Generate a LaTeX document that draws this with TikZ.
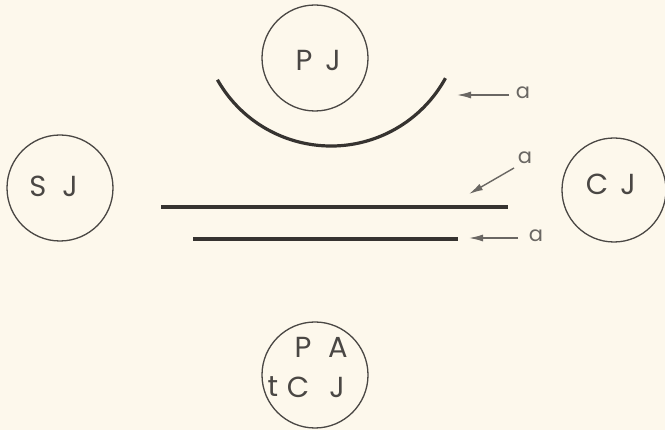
\documentclass[tikz,border=0pt]{standalone}
\usepackage{fontspec}
\setmainfont{Poppins}
\usetikzlibrary{arrows.meta}
\definecolor{bg}{HTML}{FDF8EC}
\definecolor{ink}{HTML}{4A4744}
\definecolor{thick}{HTML}{363330}
\definecolor{arrowc}{HTML}{6A6763}
\tikzset{
  jcircle/.style={circle,draw=ink,line width=1.3pt,minimum size=106pt,inner sep=0pt},
  jtext/.style={text=ink,font=\fontsize{29}{32}\selectfont,inner sep=0pt,anchor=center},
  bar/.style={draw=thick,line width=4pt},
  pointer/.style={draw=arrowc,line width=1.4pt,-{Latex[length=14pt,width=7pt]}},
  alabel/.style={text=arrowc,font=\fontsize{21}{24}\selectfont,inner sep=0pt,anchor=center}
}
\begin{document}
\begin{tikzpicture}[x=1pt,y=-1pt]
\fill[bg] (0,0) rectangle (665,430);
\useasboundingbox (0,0) rectangle (665,430);
% circles
\node[jcircle] (pj) at (315,58) {};
\node[jcircle] (sj) at (60,188) {};
\node[jcircle,minimum size=104pt] (cj) at (614,190) {};
\node[jcircle,minimum size=106pt] (pa) at (315,375) {};
% texts
\node[jtext] (pjP) at (304,60) {P};
\node[jtext] (pjJ) at (333,60) {J};
\node[jtext] (sjS) at (38,186) {S};
\node[jtext] (sjJ) at (70,186) {J};
\node[jtext] (cjC) at (597,184) {C};
\node[jtext] (cjJ) at (628,184) {J};
\node[jtext] (paP) at (303,347) {P};
\node[jtext] (paA) at (338,347) {A};
\node[jtext] (pat) at (273,387) {t};
\node[jtext] (paC) at (298,387) {C};
\node[jtext] (paJ) at (337,387) {J};
% arc
\coordinate (arcc) at (331,15.5);
\draw[draw=thick,line width=3.2pt] ([shift={(150.5:130.5)}]arcc) arc[start angle=150.5,end angle=28.7,radius=130.5];
% bars
\coordinate (b1l) at (161,207);
\coordinate (b1r) at (508,207);
\coordinate (b2l) at (193,239);
\coordinate (b2r) at (458,239);
\draw[bar] (b1l) -- (b1r);
\draw[bar] (b2l) -- (b2r);
% pointers
\coordinate (p1s) at (509,95);
\coordinate (p1e) at (457,95);
\coordinate (p2s) at (514,168);
\coordinate (p2e) at (469,194);
\coordinate (p3s) at (518,238);
\coordinate (p3e) at (469,238);
\draw[pointer] (p1s) -- (p1e);
\draw[pointer] (p2s) -- (p2e);
\draw[pointer] (p3s) -- (p3e);
\node[alabel] (a1) at (523,93) {a};
\node[alabel] (a2) at (525,158) {a};
\node[alabel] (a3) at (536,236) {a};
\end{tikzpicture}
\end{document}
